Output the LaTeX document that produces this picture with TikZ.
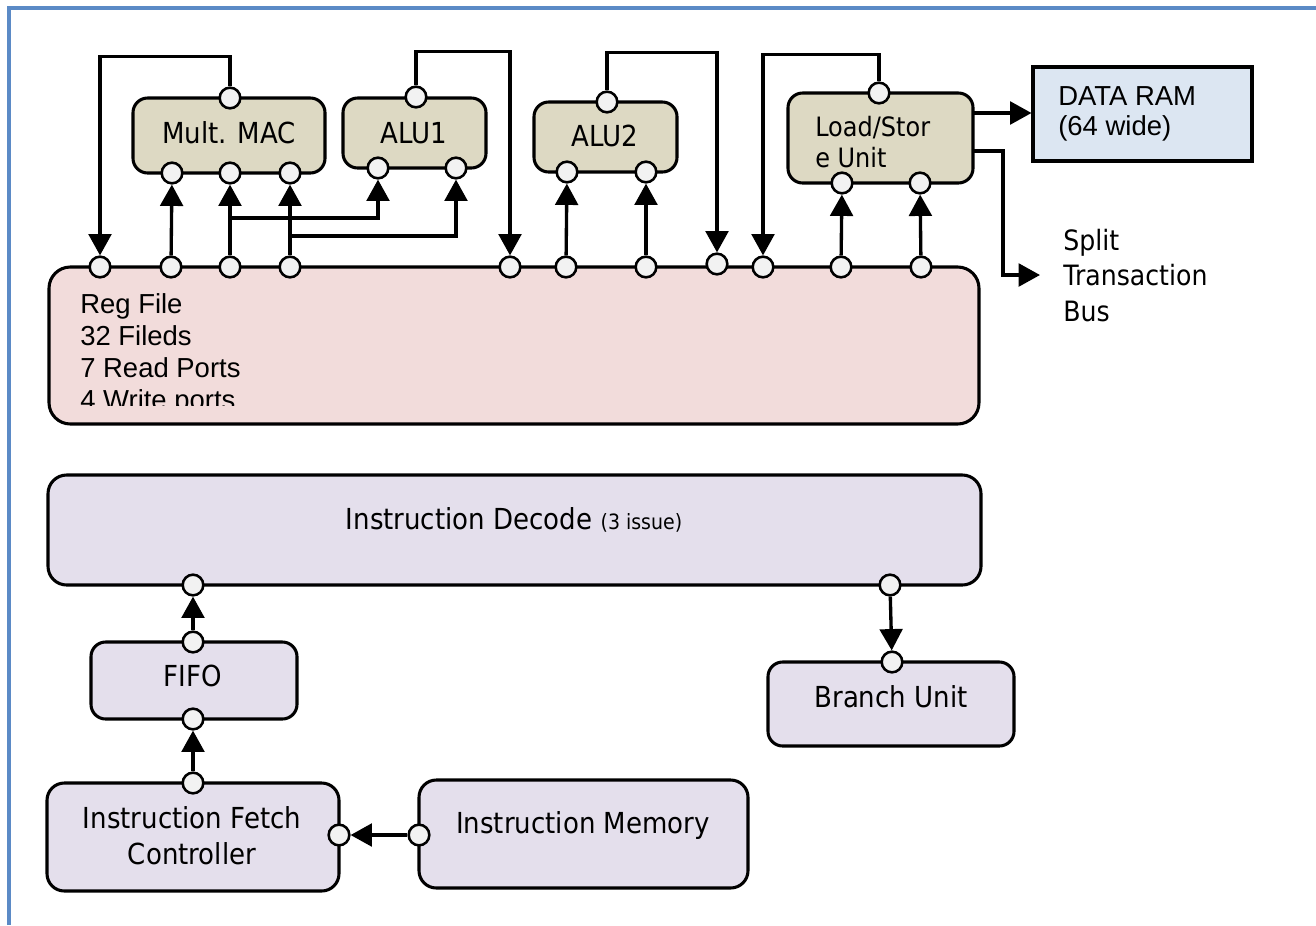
\documentclass[tikz,border=0pt]{standalone}
\usepackage{fontspec}
\newfontfamily\tahf[FakeStretch=0.9]{DejaVu Sans}
\newfontfamily\arif{Liberation Sans}
\usetikzlibrary{arrows.meta,fit}
\definecolor{exu}{HTML}{DDD9C3}
\definecolor{regc}{HTML}{F2DCDB}
\definecolor{insc}{HTML}{E4DFEC}
\definecolor{ramc}{HTML}{DCE6F2}
\definecolor{portc}{HTML}{F2F2F2}
\definecolor{framec}{HTML}{5B8AC6}
\begin{document}
\begin{tikzpicture}[x=0.75pt,y=-0.75pt,
  box/.style={draw=black, line width=2.3pt, rounded corners=11pt, inner sep=0pt},
  port/.style={circle, draw=black, fill=portc, line width=1.9pt, minimum size=15.5pt, inner sep=0pt},
  wire/.style={line width=2.5pt},
  arr/.style={line width=2.5pt, -{Triangle[length=16pt,width=17pt]}},
  tl/.style={font=\tahf\fontsize{21.7}{26}\selectfont, inner sep=0pt},
  tm/.style={font=\tahf\fontsize{20}{23}\selectfont, inner sep=0pt},
  ts/.style={font=\tahf\fontsize{21}{25}\selectfont, inner sep=0pt},
  al/.style={font=\arif\fontsize{20.6}{24}\selectfont, inner sep=0pt}]
\useasboundingbox (0,0) rectangle (1316,925);
\fill[white] (0,0) rectangle (1316,925);
\draw[framec, line width=3pt] (9,925) -- (9,8) -- (1316,8);

% boxes
\node[box, fill=exu, fit={(133,98) (325,173)}] (mac) {};
\node[box, fill=exu, fit={(343,98) (486,168)}] (alu1) {};
\node[box, fill=exu, fit={(534,102) (677,172)}] (alu2) {};
\node[box, fill=exu, fit={(788,93) (973,183)}] (ls) {};
\node[box, sharp corners, fill=ramc, fit={(1033,67) (1252,161)}] (ram) {};
\node[box, fill=regc, rounded corners=16pt, fit={(49,267) (979,424)}] (reg) {};
\node[box, fill=insc, rounded corners=14pt, fit={(48,475) (981,585)}] (dec) {};
\node[box, fill=insc, fit={(91,642) (297,719)}] (fifo) {};
\node[box, fill=insc, rounded corners=13pt, fit={(47,783) (339,891)}] (fetch) {};
\node[box, fill=insc, rounded corners=13pt, fit={(419,780) (748,888)}] (imem) {};
\node[box, fill=insc, fit={(768,662) (1014,746)}] (bru) {};

% texts
\node[tl, anchor=base] (tmac) at (229,143) {Mult. MAC};
\node[tl, anchor=base] (talu1) at (414,143) {ALU1};
\node[tl, anchor=base] (talu2) at (605,146) {ALU2};
\node[tm, anchor=base west] (tls1) at (815,136) {Load/Stor};
\node[tm, anchor=base west] (tls2) at (815,167) {e Unit};
\node[al, anchor=base west] (tram1) at (1058,105) {DATA RAM};
\node[al, anchor=base west] (tram2) at (1058,135) {(64 wide)};
\node[ts, anchor=base west] (tbus1) at (1063,250) {Split};
\node[ts, anchor=base west] (tbus2) at (1063,285) {Transaction};
\node[ts, anchor=base west] (tbus3) at (1063,321) {Bus};
\begin{scope}
  \clip (49,267) rectangle (979,405);
  \node[al, anchor=base west] (trf1) at (80,313) {Reg File};
  \node[al, anchor=base west] (trf2) at (80,345) {32 Fileds};
  \node[al, anchor=base west] (trf3) at (80,377) {7 Read Ports};
  \node[al, anchor=base west] (trf4) at (80,409) {4 Write ports};
\end{scope}
\node[tl, anchor=base] (tdec) at (514,529) {Instruction Decode {\fontsize{15.8}{18}\selectfont(3 issue)}};
\node[tl, anchor=base] (tfifo) at (193,686) {FIFO};
\node[tl, anchor=base] (tfc1) at (192,828) {Instruction Fetch};
\node[tl, anchor=base] (tfc2) at (192,864) {Controller};
\node[tl, anchor=base] (timem) at (583,833) {Instruction Memory};
\node[tl, anchor=base] (tbru) at (891,707) {Branch Unit};

% ports
\node[port] (mT) at (230,98) {};
\node[port] (mB1) at (172,173) {};
\node[port] (mB2) at (230,173) {};
\node[port] (mB3) at (290,173) {};
\node[port] (a1T) at (416,97) {};
\node[port] (a1B1) at (378,168) {};
\node[port] (a1B2) at (456,168) {};
\node[port] (a2T) at (607,102) {};
\node[port] (a2B1) at (567,172) {};
\node[port] (a2B2) at (646,172) {};
\node[port] (lsT) at (879,93) {};
\node[port] (lsB1) at (842,183) {};
\node[port] (lsB2) at (920,183) {};
\node[port] (r1) at (100,267) {};
\node[port] (r2) at (171,267) {};
\node[port] (r3) at (230,267) {};
\node[port] (r4) at (290,267) {};
\node[port] (r5) at (510,267) {};
\node[port] (r6) at (566,267) {};
\node[port] (r7) at (646,267) {};
\node[port] (r8) at (717,264) {};
\node[port] (r9) at (763,267) {};
\node[port] (r10) at (841,267) {};
\node[port] (r11) at (921,267) {};
\node[port] (dB1) at (193,585) {};
\node[port] (dB2) at (890,585) {};
\node[port] (fT) at (193,642) {};
\node[port] (fB) at (193,719) {};
\node[port] (fcT) at (193,783) {};
\node[port] (fcR) at (339,835) {};
\node[port] (imL) at (419,835) {};
\node[port] (bT) at (892,662) {};

% junction / free-end coordinates
\coordinate (j1) at (230,218);
\coordinate (j2) at (290,236);
\coordinate (lsO1) at (973,113);
\coordinate (lsO2) at (973,151);
\coordinate (bus) at (1040,275);

% connectors
\draw[arr] (mT.north) -- ++(0,-30) -| (r1);
\draw[arr] (a1T.north) -- ++(0,-34) -| (r5);
\draw[arr] (a2T.north) -- ++(0,-38) -| (r8);
\draw[arr] (lsT.north) -- ++(0,-27) -| (r9);
\draw[arr] (r2) -- (mB1);
\draw[arr] (r3) -- (mB2);
\draw[arr] (r4) -- (mB3);
\draw[arr] (j1) -| (a1B1);
\draw[arr] (j2) -| (a1B2);
\draw[arr] (r6) -- (a2B1);
\draw[arr] (r7) -- (a2B2);
\draw[arr] (r10) -- (lsB1);
\draw[arr] (r11) -- (lsB2);
\draw[arr] (lsO1) -- (ram.west |- lsO1);
\draw[arr] (lsO2) -- ++(30,0) |- (bus);
\draw[arr] (fT) -- (dB1);
\draw[arr] (fcT) -- (fB);
\draw[arr] (imL) -- (fcR);
\draw[arr] (dB2) -- (bT);
\end{tikzpicture}
\end{document}
